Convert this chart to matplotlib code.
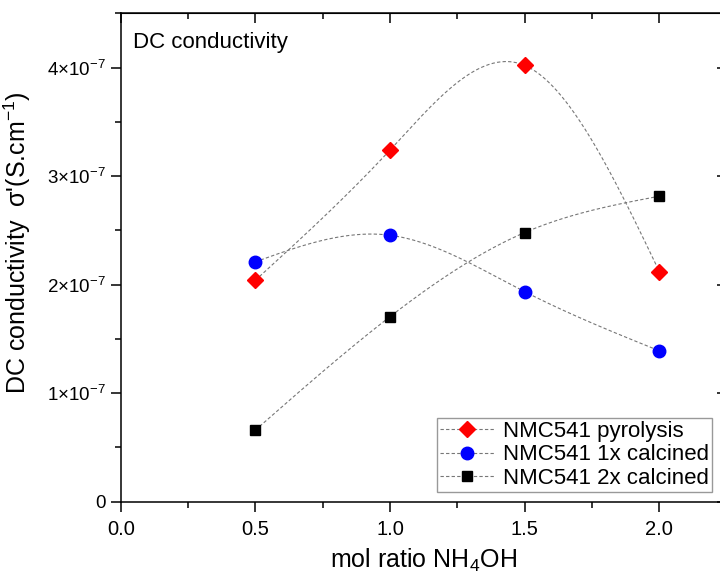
import numpy as np
import matplotlib.pyplot as plt
from matplotlib.ticker import FuncFormatter, MultipleLocator

plt.rcParams['font.family'] = ['Liberation Sans', 'DejaVu Sans']
plt.rcParams['mathtext.fontset'] = 'custom'
plt.rcParams['mathtext.rm'] = 'Liberation Sans'
plt.rcParams['mathtext.it'] = 'Liberation Sans:italic'

# --------------- Data ---------------
ratio = [0.5, 1.0, 1.5, 2.0]
pyrolysis = [2.04e-7, 3.24e-7, 4.02e-7, 2.12e-7]
calcined_1x = [2.21e-7, 2.455e-7, 1.935e-7, 1.39e-7]
calcined_2x = [0.66e-7, 1.705e-7, 2.48e-7, 2.815e-7]

labels = ['NMC541 pyrolysis', 'NMC541 1x calcined', 'NMC541 2x calcined']
colors = ['#ff0000', '#0000ff', '#000000']
markers = ['D', 'o', 's']
msizes = [8.5, 9, 7.5]


def natural_spline(x, y, n=300):
    x = np.asarray(x, float)
    y = np.asarray(y, float)
    k = len(x)
    h = np.diff(x)
    A = np.zeros((k, k))
    b = np.zeros(k)
    A[0, 0] = 1
    A[-1, -1] = 1
    for i in range(1, k - 1):
        A[i, i - 1] = h[i - 1]
        A[i, i] = 2 * (h[i - 1] + h[i])
        A[i, i + 1] = h[i]
        b[i] = 6 * ((y[i + 1] - y[i]) / h[i] - (y[i] - y[i - 1]) / h[i - 1])
    M = np.linalg.solve(A, b)
    xs = np.linspace(x[0], x[-1], n)
    j = np.clip(np.searchsorted(x, xs) - 1, 0, k - 2)
    t0 = x[j + 1] - xs
    t1 = xs - x[j]
    hj = h[j]
    ys = (M[j] * t0 ** 3 / (6 * hj) + M[j + 1] * t1 ** 3 / (6 * hj)
          + (y[j] / hj - M[j] * hj / 6) * t0 + (y[j + 1] / hj - M[j + 1] * hj / 6) * t1)
    return xs, ys


# --------------- Figure ---------------
fig = plt.figure(figsize=(7.2, 5.77), dpi=100)
ax = fig.add_axes([120.7 / 720, 75.3 / 577, 606 / 720, 488.4 / 577])

for yv, lab, c, m, ms in zip([pyrolysis, calcined_1x, calcined_2x], labels, colors, markers, msizes):
    xs, ys = natural_spline(ratio, yv)
    ax.plot(xs, ys, color='#777777', lw=0.8, ls=(0, (3, 2)), zorder=2)
    ax.plot(ratio, yv, ls='none', marker=m, ms=ms, color=c, mec=c, zorder=3)
    # legend proxy
    ax.plot([], [], color='#777777', lw=0.8, ls=(0, (3, 2)), marker=m, ms=ms,
            mfc=c, mec=c, label=lab)

ax.set_xlim(0, 2.25)
ax.set_ylim(0, 4.5e-7)
ax.xaxis.set_major_locator(MultipleLocator(0.5))
ax.xaxis.set_minor_locator(MultipleLocator(0.25))
ax.yaxis.set_major_locator(MultipleLocator(1e-7))
ax.yaxis.set_minor_locator(MultipleLocator(0.5e-7))


def yfmt(v, pos):
    n = int(round(v / 1e-7))
    if n == 0:
        return '0'
    return r'$%d{\times}10^{-7}$' % n


ax.yaxis.set_major_formatter(FuncFormatter(yfmt))

for s in ax.spines.values():
    s.set_linewidth(1.1)

ax.tick_params(which='major', direction='out', length=7, width=1.1, labelsize=13.5)
ax.tick_params(which='minor', direction='out', length=4, width=1.1)
ax.tick_params(axis='x', which='major', pad=6, labelsize=14.5)

# mirrored ticks, inward
axt = ax.secondary_xaxis('top')
axt.xaxis.set_major_locator(MultipleLocator(0.5))
axt.xaxis.set_minor_locator(MultipleLocator(0.25))
axt.tick_params(which='major', direction='in', length=7, width=1.1, labeltop=False)
axt.tick_params(which='minor', direction='in', length=4, width=1.1)
axr = ax.secondary_yaxis('right')
axr.yaxis.set_major_locator(MultipleLocator(1e-7))
axr.yaxis.set_minor_locator(MultipleLocator(10))
axr.tick_params(which='major', direction='in', length=7, width=1.1, labelright=False)

ax.set_xlabel(r'mol ratio NH$_4$OH', fontsize=18)
ax.xaxis.set_label_coords(0.5, -0.093)
ax.set_ylabel("DC conductivity  σ'(S.cm$^{-1}$)", fontsize=18)
ax.yaxis.set_label_coords(-0.145, 0.53)

ax.text(0.02, 0.962, 'DC conductivity', transform=ax.transAxes, fontsize=16,
        ha='left', va='top')

fig.legend(loc='lower left', bbox_to_anchor=(437 / 720, 85 / 577, 275 / 720, 89 / 577),
           mode='expand', fontsize=16, frameon=True, fancybox=False, edgecolor='#999999',
           framealpha=1, handlelength=2.4, handletextpad=0.4, borderpad=0.15,
           labelspacing=0.1, borderaxespad=0)

fig.savefig('out.png', dpi=100)
